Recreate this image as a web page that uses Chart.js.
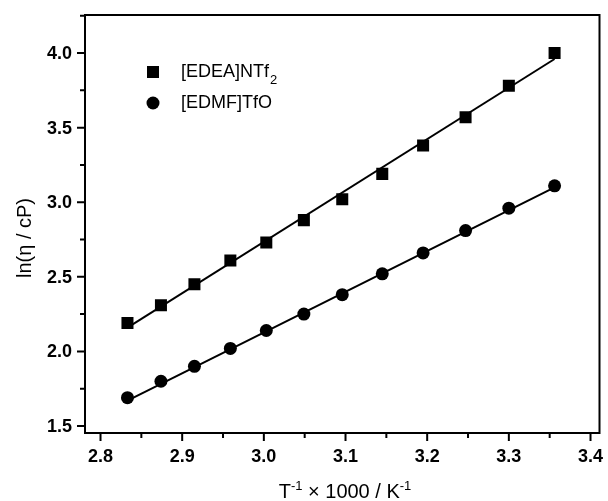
<!DOCTYPE html>
<html>
<head>
<meta charset="utf-8">
<script src="https://cdn.jsdelivr.net/npm/chart.js@4"></script>
<style>
  html, body { margin: 0; padding: 0; background: #fff; }
  #wrap { width: 608px; height: 501px; }
</style>
</head>
<body>
<div id="wrap"><canvas id="chart"></canvas></div>
<script>
// data
const invT = [2.833, 2.874, 2.915, 2.959, 3.003, 3.049, 3.096, 3.145, 3.195, 3.247, 3.300, 3.356];
const edeaNTf2 = [2.19, 2.31, 2.45, 2.61, 2.73, 2.88, 3.02, 3.19, 3.38, 3.57, 3.78, 4.00];
const edmfTfO = [1.69, 1.80, 1.90, 2.02, 2.14, 2.25, 2.38, 2.52, 2.66, 2.81, 2.96, 3.11];
// fitted lines (end points)
const fitX = [2.833, 3.356];
const fitEdea = [2.16, 3.96];
const fitEdmf = [1.67, 3.10];
// axis ticks
const xTicks = [2.8, 2.9, 3.0, 3.1, 3.2, 3.3, 3.4];
const xMinor = [2.85, 2.95, 3.05, 3.15, 3.25, 3.35];
const yTicks = [1.5, 2.0, 2.5, 3.0, 3.5, 4.0];
const yMinor = [1.75, 2.25, 2.75, 3.25, 3.75, 4.25];

const pts = (xs, ys) => xs.map((x, i) => ({ x: x, y: ys[i] }));
const FONT = '"Liberation Sans", Arial, sans-serif';

// frame, ticks, tick labels, legend and axis titles
const decor = {
  id: 'decor',
  afterDraw(chart) {
    const ctx = chart.ctx;
    const a = chart.chartArea;
    const xs = chart.scales.x, ys = chart.scales.y;
    ctx.save();
    ctx.strokeStyle = '#000';
    ctx.fillStyle = '#000';
    ctx.lineWidth = 2;
    ctx.strokeRect(a.left, a.top, a.right - a.left, a.bottom - a.top);

    ctx.beginPath();
    xTicks.forEach(v => { const p = xs.getPixelForValue(v); ctx.moveTo(p, a.bottom); ctx.lineTo(p, a.bottom + 8); });
    xMinor.forEach(v => { const p = xs.getPixelForValue(v); ctx.moveTo(p, a.bottom); ctx.lineTo(p, a.bottom + 5); });
    yTicks.forEach(v => { const p = ys.getPixelForValue(v); ctx.moveTo(a.left, p); ctx.lineTo(a.left - 8, p); });
    yMinor.forEach(v => { const p = ys.getPixelForValue(v); ctx.moveTo(a.left, p); ctx.lineTo(a.left - 5, p); });
    ctx.stroke();

    // tick labels
    ctx.font = 'bold 18px ' + FONT;
    ctx.textBaseline = 'middle';
    ctx.textAlign = 'center';
    xTicks.forEach(v => ctx.fillText(v.toFixed(1), xs.getPixelForValue(v), 457));
    ctx.textAlign = 'right';
    yTicks.forEach(v => ctx.fillText(v.toFixed(1), 72, ys.getPixelForValue(v) + 1));

    // legend
    ctx.fillRect(147, 66, 12, 12);
    ctx.beginPath();
    ctx.arc(153, 103, 6.5, 0, Math.PI * 2);
    ctx.fill();
    ctx.font = '18px ' + FONT;
    ctx.textAlign = 'left';
    ctx.fillText('[EDEA]NTf', 181, 72);
    const w = ctx.measureText('[EDEA]NTf').width;
    ctx.font = '13px ' + FONT;
    ctx.fillText('2', 181 + w + 1, 80);
    ctx.font = '18px ' + FONT;
    ctx.fillText('[EDMF]TfO', 181, 103);

    // x title with superscripts
    const big = '20px ' + FONT;
    const small = '13px ' + FONT;
    const parts = [['T', big, 0], ['-1', small, -8], [' \u00d7 1000 / K', big, 0], ['-1', small, -8]];
    let total = 0;
    parts.forEach(p => { ctx.font = p[1]; total += ctx.measureText(p[0]).width; });
    let x = 345 - total / 2;
    ctx.textBaseline = 'alphabetic';
    parts.forEach(p => { ctx.font = p[1]; ctx.fillText(p[0], x, 498 + p[2]); x += ctx.measureText(p[0]).width; });

    // y title
    ctx.translate(25, 238);
    ctx.rotate(-Math.PI / 2);
    ctx.font = big;
    ctx.textAlign = 'center';
    ctx.textBaseline = 'middle';
    ctx.fillText('ln(\u03b7 / cP)', 0, 0);
    ctx.restore();
  }
};

new Chart(document.getElementById('chart'), {
  type: 'scatter',
  data: {
    datasets: [
      { label: 'fit1', data: pts(fitX, fitEdea), showLine: true, borderColor: '#000', borderWidth: 2, pointRadius: 0 },
      { label: 'fit2', data: pts(fitX, fitEdmf), showLine: true, borderColor: '#000', borderWidth: 2, pointRadius: 0 },
      { label: '[EDEA]NTf2', data: pts(invT, edeaNTf2), pointStyle: 'rect', pointRadius: 8.5, backgroundColor: '#000', borderColor: '#000', borderWidth: 0 },
      { label: '[EDMF]TfO', data: pts(invT, edmfTfO), pointStyle: 'circle', pointRadius: 6.5, backgroundColor: '#000', borderColor: '#000', borderWidth: 0 }
    ]
  },
  options: {
    responsive: true,
    maintainAspectRatio: false,
    animation: false,
    layout: { padding: { top: 15, right: 3, left: 0, bottom: 0 } },
    plugins: { legend: { display: false }, tooltip: { enabled: false } },
    scales: {
      x: {
        type: 'linear',
        min: 2.781,
        max: 3.411,
        grid: { display: false },
        border: { display: false },
        ticks: { display: false },
        afterFit: s => { s.height = 68; }
      },
      y: {
        type: 'linear',
        min: 1.453,
        max: 4.255,
        grid: { display: false },
        border: { display: false },
        ticks: { display: false },
        afterFit: s => { s.width = 85; }
      }
    }
  },
  plugins: [decor]
});
</script>
</body>
</html>
